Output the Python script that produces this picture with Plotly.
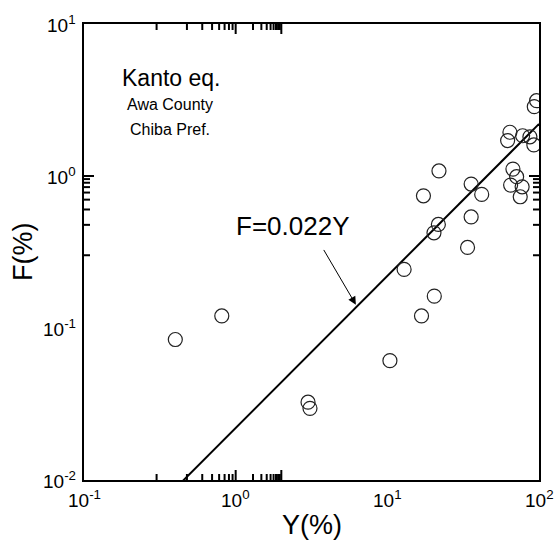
import math
import plotly.graph_objects as go

# Data (Y = % , F = %)
Y_pct = [0.40, 0.81, 3.0, 3.09, 10.4, 16.8, 20.4, 12.9, 33.8, 20.3, 21.7, 35.7,
         17.3, 41.9, 35.7, 75.2, 77.4, 65.0, 71.2, 67.3, 21.9, 92.5, 87.1, 78.0,
         62.1, 64.3, 93.1, 96.4]
F_pct = [0.084, 0.12, 0.0325, 0.0296, 0.061, 0.12, 0.162, 0.243, 0.339, 0.423,
         0.480, 0.538, 0.741, 0.757, 0.885, 0.730, 0.849, 0.871, 0.99, 1.11,
         1.08, 1.60, 1.81, 1.84, 1.71, 1.94, 2.86, 3.13]

fit_coef = 0.022
fit_x = [0.1, 100]
fit_y = [fit_coef * v for v in fit_x]

x_range = [0.1, 100]
y_range = [0.01, 10]
x_tickvals = [0.1, 1, 10, 100]
x_ticktext = ["10<sup>-1</sup>", "10<sup>0</sup>", "10<sup>1</sup>", "10<sup>2</sup>"]
y_tickvals = [0.01, 0.1, 1, 10]
y_ticktext = ["10<sup>-2</sup>", "10<sup>-1</sup>", "10<sup>0</sup>", "10<sup>1</sup>"]
minor_mult = [2, 3, 4, 5, 6, 7, 8, 9]
x_minor = [m * d for d in [0.1, 1, 10] for m in minor_mult]
y_minor = [m * d for d in [0.01, 0.1, 1] for m in minor_mult]

FONT = "Arial, Liberation Sans, sans-serif"
PLOT_W, PLOT_H = 455, 456
MAJOR_LEN, MINOR_LEN = 10, 6

fig = go.Figure()
fig.add_trace(go.Scatter(x=fit_x, y=fit_y, mode="lines",
                         line=dict(color="black", width=2), showlegend=False,
                         hoverinfo="skip"))
fig.add_trace(go.Scatter(x=Y_pct, y=F_pct, mode="markers",
                         marker=dict(symbol="circle-open", size=14,
                                     color="#222222", line=dict(width=1.2)),
                         showlegend=False))

axis_common = dict(
    type="log", tickmode="linear", tick0=0, dtick=1, showticklabels=False,
    showgrid=False, zeroline=False, automargin=False,
    showline=True, linecolor="black", linewidth=2, mirror=True,
    ticks="",
)
fig.update_xaxes(**axis_common, range=[math.log10(v) for v in x_range])
fig.update_yaxes(**axis_common, range=[math.log10(v) for v in y_range])

# inward tick marks on all four sides, drawn as shapes from the tick lists
shapes = []
for vals, ln in [(x_tickvals, MAJOR_LEN), (x_minor, MINOR_LEN)]:
    for v in vals:
        lx = math.log10(v)
        shapes.append(dict(type="line", xref="x", yref="paper", x0=lx, x1=lx,
                           y0=0, y1=ln / PLOT_H, line=dict(color="black", width=2)))
        shapes.append(dict(type="line", xref="x", yref="paper", x0=lx, x1=lx,
                           y0=1, y1=1 - ln / PLOT_H, line=dict(color="black", width=2)))
for vals, ln in [(y_tickvals, MAJOR_LEN), (y_minor, MINOR_LEN)]:
    for v in vals:
        ly = math.log10(v)
        shapes.append(dict(type="line", xref="paper", yref="y", y0=ly, y1=ly,
                           x0=0, x1=ln / PLOT_W, line=dict(color="black", width=2)))
        shapes.append(dict(type="line", xref="paper", yref="y", y0=ly, y1=ly,
                           x0=1, x1=1 - ln / PLOT_W, line=dict(color="black", width=2)))
fig.update_layout(shapes=shapes)

# tick labels
for v, t in zip(x_tickvals, x_ticktext):
    fig.add_annotation(x=math.log10(v), y=0, xref="x", yref="paper", text=t,
                       showarrow=False, xanchor="center", yanchor="top", yshift=-5,
                       font=dict(family=FONT, size=19, color="black"))
for v, t in zip(y_tickvals, y_ticktext):
    fig.add_annotation(x=0, y=math.log10(v), xref="paper", yref="y", text=t,
                       showarrow=False, xanchor="right", yanchor="middle", xshift=-6,
                       font=dict(family=FONT, size=19, color="black"))

# axis titles
fig.add_annotation(x=0.5, y=0, xref="paper", yref="paper", text="Y(%)",
                   showarrow=False, xanchor="center", yanchor="middle", yshift=-45,
                   font=dict(family=FONT, size=27, color="black"))
fig.add_annotation(x=0, y=0.5, xref="paper", yref="paper", text="F(%)", textangle=-90,
                   showarrow=False, xanchor="center", yanchor="middle", xshift=-61,
                   font=dict(family=FONT, size=27, color="black"))


def px_to_paper(px, py):
    return (px - 84) / PLOT_W, 1 - (py - 24) / PLOT_H


for txt, (px, py), sz in [("Kanto eq.", (171, 78), 23),
                          ("Awa County", (170, 104), 16),
                          ("Chiba Pref.", (170, 130), 16),
                          ("F=0.022Y", (292, 226), 26)]:
    xp, yp = px_to_paper(px, py)
    fig.add_annotation(x=xp, y=yp, xref="paper", yref="paper", text=txt,
                       showarrow=False, xanchor="center", yanchor="middle",
                       font=dict(family=FONT, size=sz, color="black"))

arrow_x = 6.3
fig.add_annotation(x=math.log10(arrow_x), y=math.log10(fit_coef * arrow_x),
                   xref="x", yref="y", text="", showarrow=True,
                   ax=-34, ay=-58, arrowhead=2, arrowsize=1.6, arrowwidth=1,
                   arrowcolor="black", standoff=2)

fig.update_layout(
    width=555, height=542,
    margin=dict(l=84, r=16, t=24, b=62),
    plot_bgcolor="white", paper_bgcolor="white",
    font=dict(family=FONT, color="black"),
)

fig.write_html("out.html")
